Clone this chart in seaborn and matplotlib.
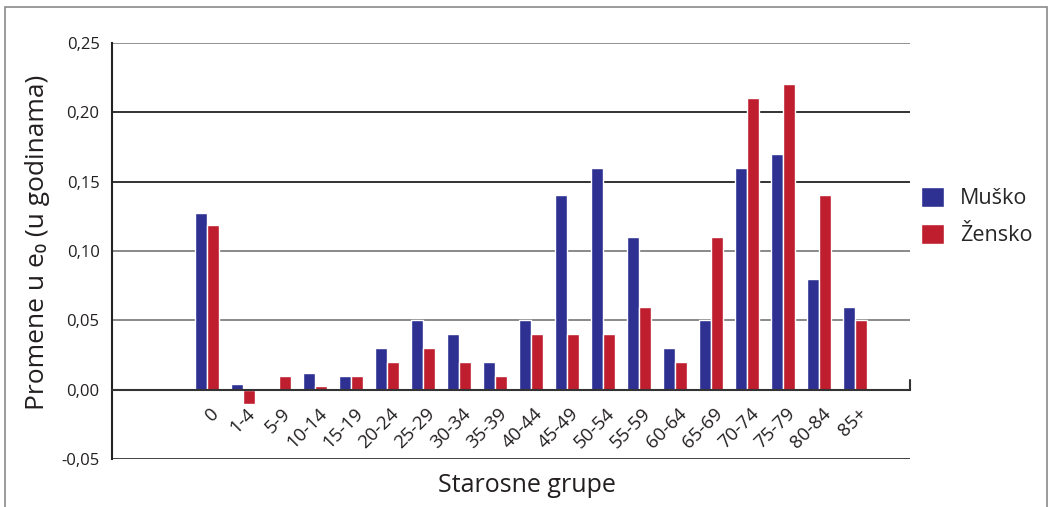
import matplotlib
matplotlib.use("Agg")
import matplotlib.pyplot as plt
import matplotlib.transforms as mtransforms
from matplotlib.patches import Rectangle
import pandas as pd
import seaborn as sns

# age groups and changes in life expectancy (years)
groups = ["0", "1-4", "5-9", "10-14", "15-19", "20-24", "25-29", "30-34", "35-39",
          "40-44", "45-49", "50-54", "55-59", "60-64", "65-69", "70-74", "75-79",
          "80-84", "85+"]
musko = [0.127, 0.004, 0.0, 0.012, 0.010, 0.030, 0.050, 0.040, 0.020, 0.050,
         0.140, 0.160, 0.110, 0.030, 0.050, 0.160, 0.170, 0.080, 0.060]
zensko = [0.119, -0.010, 0.010, 0.003, 0.010, 0.020, 0.030, 0.020, 0.010, 0.040,
          0.040, 0.040, 0.060, 0.020, 0.110, 0.210, 0.220, 0.140, 0.050]
series = ["Muško", "Žensko"]
yticks = [-0.05, 0.0, 0.05, 0.10, 0.15, 0.20, 0.25]
grid_colors = ["#333333", "#333333", "#808080", "#808080", "#222222", "#222222", "#8a8a8a"]

sns.set_style("white")
plt.rcParams["font.family"] = ["Open Sans", "DejaVu Sans"]

df = pd.DataFrame({
    "grupa": groups * 2,
    "vrednost": musko + zensko,
    "pol": [series[0]] * len(groups) + [series[1]] * len(groups),
})

fig = plt.figure(figsize=(10.51, 5.07), dpi=100)
ax = fig.add_axes([0.1066, 0.0941, 0.7592, 0.8217])

sns.barplot(data=df, x="grupa", y="vrednost", hue="pol",
            palette=["#2E3192", "#BE1E2D"], saturation=1,
            width=0.667, gap=0.06, errorbar=None, ax=ax, zorder=3)

ax.set_xlim(-2.64, 19.53)
ax.set_ylim(-0.05, 0.25)

# horizontal lines
for v, c in zip(yticks, grid_colors):
    ax.axhline(v, color=c, lw=1.3, zorder=1)

ax.spines["top"].set_visible(False)
ax.spines["right"].set_visible(False)
ax.spines["bottom"].set_position(("data", 0))
ax.spines["bottom"].set_color("#333333")
ax.spines["bottom"].set_linewidth(1.5)
ax.spines["bottom"].set_zorder(4)
ax.spines["left"].set_color("#222222")
ax.spines["left"].set_linewidth(1.5)

x1 = ax.get_xlim()[1]
ax.plot([x1, x1], [0, 0.007], color="#333333", lw=1.5, clip_on=False)

ax.set_yticks(yticks)
ax.set_yticklabels([f"{v:.2f}".replace(".", ",") for v in yticks])
ax.tick_params(axis="y", direction="in", length=20, width=2, color="#333333",
               labelsize=12, pad=9, labelcolor="#231F20")

ax.tick_params(axis="x", length=0, labelsize=13.5, pad=15, labelcolor="#231F20")
offset = mtransforms.ScaledTranslation(0.09, 0, fig.dpi_scale_trans)
for lbl in ax.get_xticklabels():
    lbl.set_rotation(45)
    lbl.set_ha("right")
    lbl.set_va("center")
    lbl.set_rotation_mode("anchor")
    lbl.set_transform(lbl.get_transform() + offset)

ax.set_ylabel("Promene u e₀ (u godinama)", fontsize=19, color="#231F20")
ax.yaxis.set_label_coords(-0.078, 0.52)
ax.set_xlabel("Starosne grupe", fontsize=18, color="#231F20")
ax.xaxis.label.set_va("center")
ax.xaxis.set_label_coords(0.52, -0.062)

ax.legend(title=None, loc="center left", bbox_to_anchor=(1.014, 0.583),
          frameon=False, fontsize=15.5, handlelength=1.05, handleheight=1.05,
          handletextpad=0.75, labelspacing=0.7, borderpad=0, borderaxespad=0)

fig.patches.append(Rectangle((0.0048, -0.02), 0.9914, 1.006, transform=fig.transFigure,
                             fill=False, edgecolor="#8a8a8a", lw=1.2))

fig.savefig("out.png", dpi=100)
